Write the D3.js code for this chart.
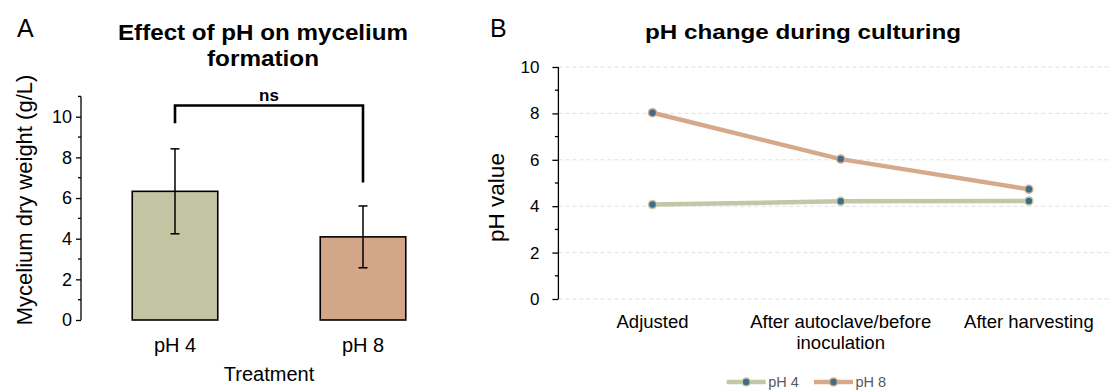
<!DOCTYPE html>
<html><head><meta charset="utf-8">
<script src="https://cdn.jsdelivr.net/npm/d3@7"></script>
<style>
html,body{margin:0;padding:0;background:#fff;}
svg{display:block;font-family:"Liberation Sans",Arial,sans-serif;}
</style></head>
<body>
<svg id="chart" width="1110" height="390"></svg>
<script>
// ---- Panel A data ----
const barCategories = ["pH 4", "pH 8"];
const barMeans = [6.33, 4.09];
const barSD = [2.09, 1.52];
const barColors = ["#c2c4a2", "#d3a68a"];
const barTicks = [0, 2, 4, 6, 8, 10];
const bracketTop = 10.55;
const bracketLegs = [9.68, 6.77];
const bracketLabel = "ns";

// ---- Panel B data ----
const stages = ["Adjusted", "After autoclave/before\ninoculation", "After harvesting"];
const seriesNames = ["pH 4", "pH 8"];
const ph4Values = [4.07, 4.21, 4.22];
const ph8Values = [8.03, 6.03, 4.73];
const lineColors = ["#c4c7a6", "#d6a98c"];
const markerColor = "#3e6d89";
const lineTicks = [0, 2, 4, 6, 8, 10];

const svg = d3.select("#chart");

// ================= Panel A =================
const A = svg.append("g");
const yA = d3.scaleLinear().domain([0, 11]).range([320, 96.4]);
const xA = d3.scaleBand().domain(barCategories).range([81, 457]).paddingInner(0.545).paddingOuter(0.2725);

A.append("text").attr("x", 17).attr("y", 37).attr("font-size", 25).text("A");
const titleA = A.append("text").attr("text-anchor", "middle").attr("font-size", 22.5).attr("font-weight", "bold");
titleA.append("tspan").attr("x", 263).attr("y", 40).attr("textLength", 290).attr("lengthAdjust", "spacingAndGlyphs").text("Effect of pH on mycelium");
titleA.append("tspan").attr("x", 263).attr("y", 66).attr("textLength", 112).attr("lengthAdjust", "spacingAndGlyphs").text("formation");

// y axis
const axA = A.append("g").attr("transform", "translate(81,0)")
  .call(d3.axisLeft(yA).tickValues(barTicks).tickSize(5).tickPadding(4).tickFormat(d3.format("d")));
axA.select(".domain").attr("d", `M0,${yA(11)}V${yA(0)}`).attr("stroke", "#000").attr("stroke-width", 1.3);
axA.selectAll(".tick line").attr("stroke", "#000").attr("stroke-width", 1.3);
axA.selectAll(".tick text").attr("font-size", 18).attr("fill", "#000").attr("font-family", "Liberation Sans, Arial, sans-serif");
A.append("g").attr("transform", "translate(81,0)").selectAll("line")
  .data(d3.range(1, 12, 2)).join("line")
  .attr("x1", -3).attr("x2", 0).attr("y1", d => yA(d)).attr("y2", d => yA(d))
  .attr("stroke", "#000").attr("stroke-width", 1.3);

// bars
A.selectAll("rect.bar").data(barCategories).join("rect").attr("class", "bar")
  .attr("x", d => xA(d)).attr("width", xA.bandwidth())
  .attr("y", (d, i) => yA(barMeans[i])).attr("height", (d, i) => yA(0) - yA(barMeans[i]))
  .attr("fill", (d, i) => barColors[i]).attr("stroke", "#000").attr("stroke-width", 1.6);

// error bars
const eb = A.selectAll("g.err").data(barCategories).join("g").attr("class", "err");
eb.append("line")
  .attr("x1", d => xA(d) + xA.bandwidth() / 2).attr("x2", d => xA(d) + xA.bandwidth() / 2)
  .attr("y1", (d, i) => yA(barMeans[i] - barSD[i])).attr("y2", (d, i) => yA(barMeans[i] + barSD[i]))
  .attr("stroke", "#000").attr("stroke-width", 1.5);
[-1, 1].forEach(s => {
  eb.append("line")
    .attr("x1", d => xA(d) + xA.bandwidth() / 2 - 4.5).attr("x2", d => xA(d) + xA.bandwidth() / 2 + 4.5)
    .attr("y1", (d, i) => yA(barMeans[i] + s * barSD[i])).attr("y2", (d, i) => yA(barMeans[i] + s * barSD[i]))
    .attr("stroke", "#000").attr("stroke-width", 1.5);
});

// bracket
const bx = barCategories.map(d => xA(d) + xA.bandwidth() / 2);
A.append("path")
  .attr("d", `M${bx[0]},${yA(bracketLegs[0])}V${yA(bracketTop)}H${bx[1]}V${yA(bracketLegs[1])}`)
  .attr("fill", "none").attr("stroke", "#000").attr("stroke-width", 2.6);
A.append("text").attr("x", (bx[0] + bx[1]) / 2).attr("y", 101).attr("text-anchor", "middle")
  .attr("font-size", 17).attr("font-weight", "bold").text(bracketLabel);

// x labels
A.selectAll("text.xl").data(barCategories).join("text").attr("class", "xl")
  .attr("x", d => xA(d) + xA.bandwidth() / 2).attr("y", 351.5).attr("text-anchor", "middle")
  .attr("font-size", 20).text(d => d);
A.append("text").attr("x", 269).attr("y", 381).attr("text-anchor", "middle").attr("font-size", 20).text("Treatment");
A.append("text").attr("transform", "translate(32,200) rotate(-90)").attr("text-anchor", "middle")
  .attr("font-size", 22).text("Mycelium dry weight (g/L)");

// ================= Panel B =================
const B = svg.append("g");
const xB = d3.scalePoint().domain(stages).range([558.4, 1123]).padding(0.5);
const yB = d3.scaleLinear().domain([0, 10]).range([299, 67]);

B.append("text").attr("x", 490).attr("y", 37).attr("font-size", 25).text("B");
B.append("text").attr("x", 803).attr("y", 39).attr("text-anchor", "middle")
  .attr("font-size", 21).attr("font-weight", "bold")
  .attr("textLength", 316).attr("lengthAdjust", "spacingAndGlyphs").text("pH change during culturing");

// gridlines
B.selectAll("line.grid").data(lineTicks).join("line").attr("class", "grid")
  .attr("x1", 558.4).attr("x2", 1123).attr("y1", d => yB(d)).attr("y2", d => yB(d))
  .attr("stroke", "#e0e0e0").attr("stroke-width", 1).attr("stroke-dasharray", "4,3");

const axB = B.append("g").attr("transform", "translate(558.4,0)")
  .call(d3.axisLeft(yB).tickValues(lineTicks).tickSize(6).tickPadding(13).tickFormat(d3.format("d")));
axB.select(".domain").attr("d", `M0,${yB(10)}V${yB(0)}`).attr("stroke", "#000").attr("stroke-width", 1.3);
axB.selectAll(".tick line").attr("stroke", "#000").attr("stroke-width", 1.3);
axB.selectAll(".tick text").attr("font-size", 17).attr("fill", "#000").attr("font-family", "Liberation Sans, Arial, sans-serif");
B.append("g").attr("transform", "translate(558.4,0)").selectAll("line")
  .data(d3.range(1, 10, 2)).join("line")
  .attr("x1", -3.5).attr("x2", 0).attr("y1", d => yB(d)).attr("y2", d => yB(d))
  .attr("stroke", "#000").attr("stroke-width", 1.3);

B.append("text").attr("transform", "translate(504,197.5) rotate(-90)").attr("text-anchor", "middle")
  .attr("font-size", 22.5).text("pH value");

// x labels
const xl = B.selectAll("text.xl").data(stages).join("text").attr("class", "xl")
  .attr("text-anchor", "middle").attr("font-size", 18.5);
xl.each(function (d) {
  const t = d3.select(this);
  d.split("\n").forEach((ln, k) => {
    t.append("tspan").attr("x", xB(d)).attr("y", 327.5 + k * 21.5).text(ln);
  });
});

// lines
const allSeries = [ph4Values, ph8Values];
const lineGen = d3.line().x((v, i) => xB(stages[i])).y(v => yB(v));
allSeries.forEach((vals, s) => {
  B.append("path").attr("d", lineGen(vals)).attr("fill", "none")
    .attr("stroke", lineColors[s]).attr("stroke-width", 4.5).attr("stroke-linejoin", "round");
});
allSeries.forEach((vals, s) => {
  B.selectAll(null).data(vals).join("circle")
    .attr("cx", (v, i) => xB(stages[i])).attr("cy", v => yB(v)).attr("r", 4)
    .attr("fill", markerColor).attr("stroke", lineColors[s]).attr("stroke-width", 1.5);
});

// legend
const legX = [726.7, 814];
seriesNames.forEach((name, s) => {
  const g = B.append("g").attr("transform", `translate(${legX[s]},382)`);
  g.append("line").attr("x1", 0).attr("x2", 39).attr("y1", 0).attr("y2", 0)
    .attr("stroke", lineColors[s]).attr("stroke-width", 4.5);
  g.append("circle").attr("cx", 19.5).attr("cy", 0).attr("r", 4)
    .attr("fill", markerColor).attr("stroke", lineColors[s]).attr("stroke-width", 1.5);
  g.append("text").attr("x", 41.5).attr("y", 5.3).attr("font-size", 14.5).attr("fill", "#595959").text(name);
});
</script>
</body></html>
